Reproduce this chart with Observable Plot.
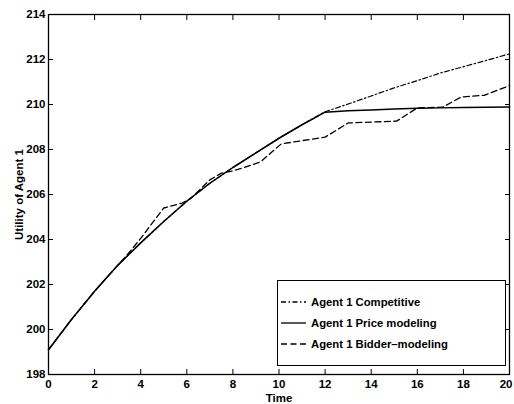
<!DOCTYPE html>
<html><head><meta charset="utf-8">
<script src="https://cdn.jsdelivr.net/npm/d3@7"></script>
<script src="https://cdn.jsdelivr.net/npm/@observablehq/plot@0.6"></script>
<style>
body{margin:0;background:#fff;}
#wrap{position:relative;width:514px;height:404px;font-family:"Liberation Sans",Arial,sans-serif;color:#000;}
#legend{position:absolute;left:277px;top:280px;width:229px;height:86px;border:1.2px solid #000;box-sizing:border-box;background:#fff;}
#legend svg{position:absolute;left:0;top:0;}
</style></head><body><div id="wrap"></div>
<script>
// Data
const timeSteps = [0,1,2,3,4,5,6,7,8,9,10,11,12,13,14,15,16,17,18,19,20];
const priceModeling = [199.1,200.45,201.7,202.85,203.85,204.8,205.7,206.5,207.2,207.85,208.5,209.1,209.66,209.72,209.76,209.8,209.83,209.85,209.87,209.88,209.89];
const competitive = [199.1,200.45,201.7,202.85,203.85,204.8,205.7,206.5,207.2,207.85,208.5,209.1,209.68,210.02,210.38,210.74,211.06,211.4,211.68,211.96,212.25];
const bidderTime = [0,1,2,3,3.4,4,5,5.8,6.2,7,7.5,8,8.5,9.2,10.1,12,13,15.1,16,17.1,17.9,18.9,20];
const bidderModeling = [199.1,200.45,201.7,202.85,203.3,204.05,205.4,205.62,205.85,206.65,206.95,207.05,207.2,207.45,208.25,208.55,209.18,209.26,209.85,209.88,210.33,210.41,210.84];
const xTicks = [0,2,4,6,8,10,12,14,16,18,20];
const yTicks = [198,200,202,204,206,208,210,212,214];
const seriesNames = ["Agent 1 Competitive","Agent 1 Price modeling","Agent 1 Bidder\u2013modeling"];
const seriesDash = ["5,2.5,1.5,2.5", null, "6,3.5"];

const compData = timeSteps.map((t,i)=>({t, v:competitive[i]}));
const priceData = timeSteps.map((t,i)=>({t, v:priceModeling[i]}));
const bidData = bidderTime.map((t,i)=>({t, v:bidderModeling[i]}));

const font = '"Liberation Sans", Arial, sans-serif';
const lastX = xTicks[xTicks.length-1];
const chart = Plot.plot({
  width:514, height:404,
  marginLeft:48, marginTop:14, marginRight:5, marginBottom:30,
  x:{domain:[0,20]},
  y:{domain:[198,214]},
  style:{fontFamily:font, fontSize:"11.5px", fontWeight:"bold", color:"#000", background:"#fff"},
  marks:[
    Plot.axisX({ticks:xTicks.slice(0,-1), tickSize:0, tickPadding:5, tickFormat:d=>String(d), label:"Time", labelAnchor:"center", labelOffset:27, labelArrow:"none"}),
    Plot.axisX({ticks:[lastX], tickSize:0, tickPadding:5, tickFormat:d=>String(d), textAnchor:"end", dx:3, label:null}),
    Plot.axisX({ticks:xTicks, tickSize:-5, fill:"none", label:null}),
    Plot.axisX({anchor:"top", ticks:xTicks, tickSize:-5, fill:"none", label:null}),
    Plot.axisY({ticks:yTicks, tickSize:0, tickPadding:3, tickFormat:d=>String(d), label:"Utility of Agent 1", labelAnchor:"center", labelOffset:34, labelArrow:"none"}),
    Plot.axisY({ticks:yTicks, tickSize:-5, fill:"none", label:null}),
    Plot.axisY({anchor:"right", ticks:yTicks, tickSize:-5, fill:"none", label:null}),
    Plot.line(compData, {x:"t", y:"v", stroke:"#000", strokeWidth:1.2, strokeDasharray:seriesDash[0]}),
    Plot.line(priceData, {x:"t", y:"v", stroke:"#000", strokeWidth:1.5}),
    Plot.line(bidData, {x:"t", y:"v", stroke:"#000", strokeWidth:1.3, strokeDasharray:seriesDash[2]}),
    Plot.frame({stroke:"#000", strokeWidth:1.3})
  ]
});
const wrap = document.getElementById("wrap");
wrap.appendChild(chart);

// Legend
const leg = document.createElement("div");
leg.id = "legend";
const rowY = [21, 42, 63];
let svg = `<svg width="229" height="86" xmlns="http://www.w3.org/2000/svg">`;
seriesNames.forEach((name,i)=>{
  const dash = seriesDash[i] ? `stroke-dasharray="${seriesDash[i]}"` : "";
  svg += `<line x1="3" x2="28" y1="${rowY[i]}" y2="${rowY[i]}" stroke="#000" stroke-width="1.3" ${dash}/>`;
  svg += `<text x="33" y="${rowY[i]}" dy="0.35em" font-family='${font}' font-size="11.3px" font-weight="bold" fill="#000">${name}</text>`;
});
svg += `</svg>`;
leg.innerHTML = svg;
wrap.appendChild(leg);
</script></body></html>
